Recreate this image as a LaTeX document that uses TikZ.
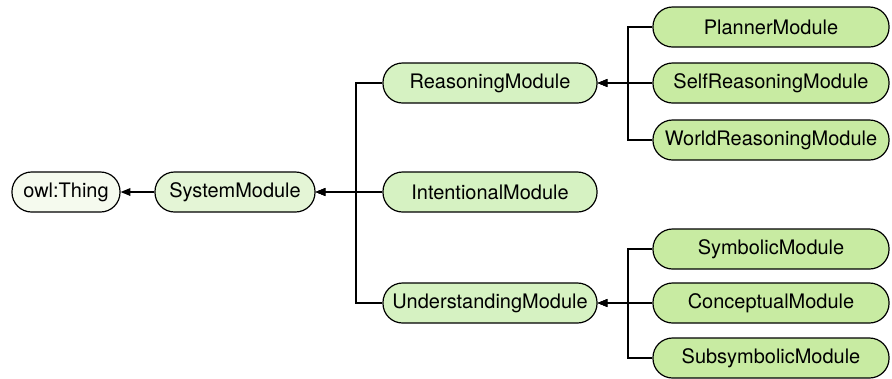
\documentclass[tikz,border=0pt]{standalone}
\usepackage{fontspec}
\setmainfont{TeX Gyre Heros}
\usetikzlibrary{arrows.meta}
\definecolor{thingfill}{RGB}{245,250,238}
\definecolor{sysfill}{RGB}{228,245,214}
\definecolor{midfill}{RGB}{214,242,194}
\definecolor{leaffill}{RGB}{200,235,162}

\tikzset{
  cls/.style={draw, line width=0.85pt, rounded corners=0.49cm, minimum height=1cm,
    inner sep=0pt, font=\fontsize{14.2pt}{17pt}\selectfont},
  isa/.style={line width=0.85pt, -{Triangle[length=7pt,width=5.5pt]}}
}

\begin{document}
\begin{tikzpicture}[x=0.025cm, y=-0.025cm]

  \useasboundingbox (0,0) rectangle (892,378);

  % Root and top module
  \node[cls, fill=thingfill, minimum width=2.7cm] (thing) at (66,192) {owl:Thing};
  \node[cls, fill=sysfill, minimum width=4cm] (sys) at (235,192) {SystemModule};

  % Second level
  \node[cls, fill=midfill, minimum width=5.35cm] (reason) at (490,83) {ReasoningModule};
  \node[cls, fill=midfill, minimum width=5.35cm] (intent) at (490,192) {IntentionalModule};
  \node[cls, fill=midfill, minimum width=5.35cm] (under) at (490,303) {UnderstandingModule};

  % Third level
  \node[cls, fill=leaffill, minimum width=5.9cm] (planner) at (771,27) {PlannerModule};
  \node[cls, fill=leaffill, minimum width=5.9cm] (selfr) at (771,83) {SelfReasoningModule};
  \node[cls, fill=leaffill, minimum width=5.9cm] (worldr) at (771,140) {WorldReasoningModule};
  \node[cls, fill=leaffill, minimum width=5.9cm] (symb) at (771,249) {SymbolicModule};
  \node[cls, fill=leaffill, minimum width=5.9cm] (conc) at (771,303) {ConceptualModule};
  \node[cls, fill=leaffill, minimum width=5.9cm] (subs) at (771,358) {SubsymbolicModule};

  % Branch points
  \coordinate (busA) at (356,192);
  \coordinate (busB) at (628,83);
  \coordinate (busC) at (628,303);

  % Subclass links
  \draw[isa] (sys.west) -- (thing.east);
  \draw[isa] (intent.west) -- (sys.east);
  \draw[isa] (reason.west) -| (busA) -- (sys.east);
  \draw[isa] (under.west) -| (busA) -- (sys.east);

  \draw[isa] (selfr.west) -- (reason.east);
  \draw[isa] (planner.west) -| (busB) -- (reason.east);
  \draw[isa] (worldr.west) -| (busB) -- (reason.east);

  \draw[isa] (conc.west) -- (under.east);
  \draw[isa] (symb.west) -| (busC) -- (under.east);
  \draw[isa] (subs.west) -| (busC) -- (under.east);

\end{tikzpicture}
\end{document}
